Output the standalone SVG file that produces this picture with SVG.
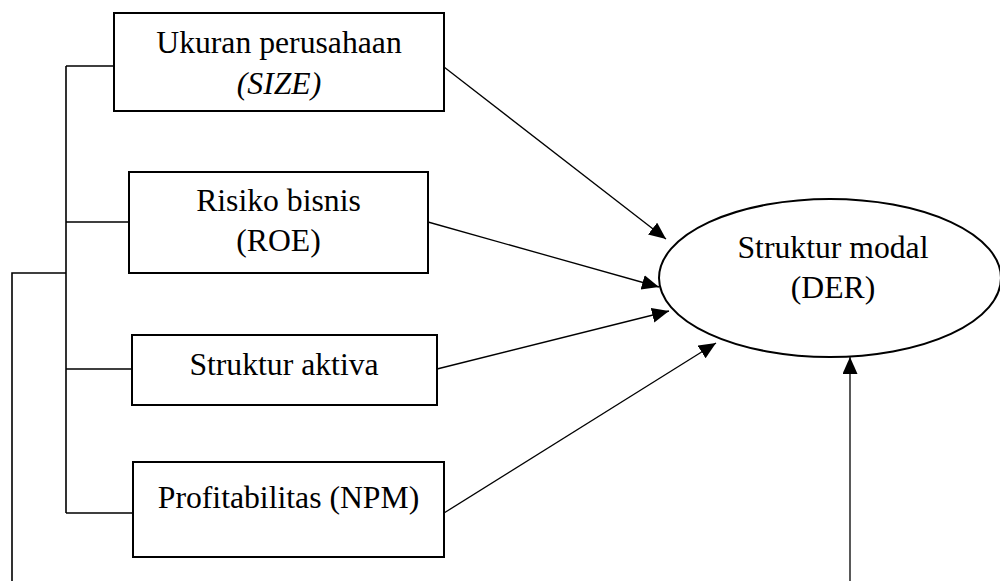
<svg xmlns="http://www.w3.org/2000/svg" width="1000" height="581" viewBox="0 0 1000 581">
<style>
.box{fill:#fff;stroke:#000;stroke-width:2}
.t{font-family:"Liberation Serif","Times New Roman",serif;font-size:31.7px;fill:#000;text-anchor:middle}
.it{font-style:italic}
.br{fill:none;stroke:#000;stroke-width:1.6}
.ar{fill:none;stroke:#000;stroke-width:1.3;marker-end:url(#ah)}
</style>
<defs>
<marker id="ah" markerUnits="userSpaceOnUse" markerWidth="18" markerHeight="16" refX="17" refY="7.5" orient="auto">
<path d="M0,0 L17,7.5 L0,15 Z" fill="#000"/>
</marker>
</defs>
<rect width="1000" height="581" fill="#fff"/>
<g id="connectors">
<path class="br" d="M66,66 V513 M66,66 H114 M66,222 H129 M66,369 H132 M66,513 H133 M12,581 V273 H66"/>
<line class="ar" x1="444" y1="67" x2="666" y2="239"/>
<line class="ar" x1="428" y1="222" x2="659" y2="287"/>
<line class="ar" x1="437" y1="369" x2="669" y2="311"/>
<line class="ar" x1="444" y1="513" x2="716" y2="343"/>
<line class="ar" x1="850" y1="581" x2="850" y2="357"/>
</g>
<g id="size">
<rect class="box" x="114" y="13" width="330" height="98"/>
<text class="t" x="279" y="53">Ukuran perusahaan</text>
<text class="t it" x="279" y="94">(SIZE)</text>
</g>
<g id="roe">
<rect class="box" x="129" y="172" width="299" height="101"/>
<text class="t" x="278.5" y="211">Risiko bisnis</text>
<text class="t" x="278.5" y="251">(ROE)</text>
</g>
<g id="aktiva">
<rect class="box" x="132" y="335" width="305" height="70"/>
<text class="t" x="284" y="375">Struktur aktiva</text>
</g>
<g id="npm">
<rect class="box" x="133" y="462" width="311" height="95"/>
<text class="t" x="288.5" y="508">Profitabilitas (NPM)</text>
</g>
<g id="der">
<ellipse cx="830" cy="278" rx="171" ry="79" fill="#fff" stroke="#000" stroke-width="2"/>
<text class="t" x="833" y="258">Struktur modal</text>
<text class="t" x="833" y="298">(DER)</text>
</g>
</svg>
